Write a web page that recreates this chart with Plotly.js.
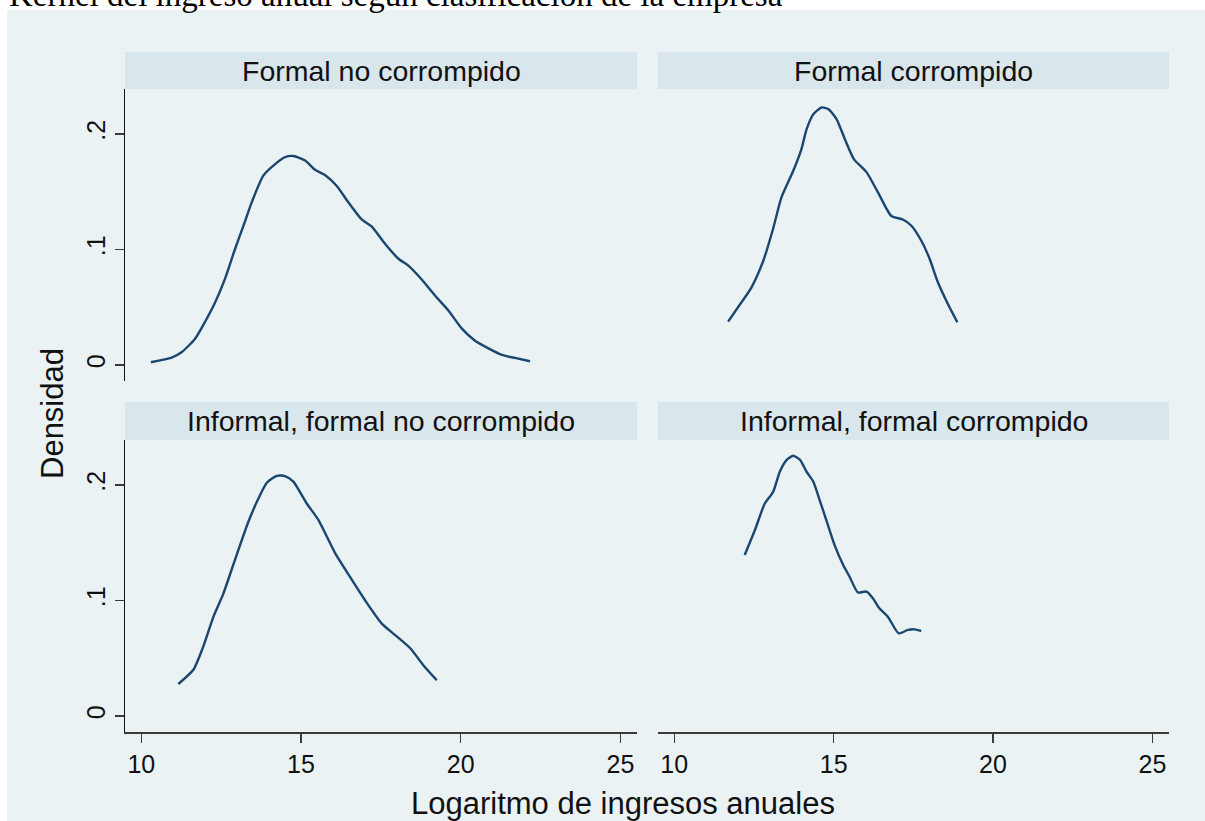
<!DOCTYPE html>
<html><head><meta charset="utf-8">
<script src="https://cdn.plot.ly/plotly-3.0.1.min.js"></script>
<style>html,body{margin:0;padding:0;background:#fff}#chart{width:1205px;height:821px}</style>
</head><body><div id="chart"></div>
<script>
// ---- data ----
const chartTitle = "Kernel del ingreso anual según clasificación de la empresa";
const panelTitles = ["Formal no corrompido", "Formal corrompido", "Informal, formal no corrompido", "Informal, formal corrompido"];
const xTitle = "Logaritmo de ingresos anuales";
const yTitle = "Densidad";
const xTickVals = [10, 15, 20, 25];
const xTickText = ["10", "15", "20", "25"];
const yTickVals = [0, 0.1, 0.2];
const yTickText = ["0", ".1", ".2"];

const fncX = [10.30,10.95,11.26,11.68,11.99,12.31,12.62,12.93,13.20,13.46,13.82,14.19,14.50,14.76,15.13,15.44,15.75,16.12,16.48,16.90,17.21,17.63,18.05,18.36,18.78,19.20,19.62,20.03,20.45,20.87,21.29,21.70,22.17];
const fncY = [0.0023,0.0063,0.011,0.0225,0.037,0.054,0.0745,0.100,0.1206,0.141,0.164,0.174,0.180,0.181,0.177,0.169,0.1645,0.155,0.141,0.126,0.120,0.105,0.092,0.086,0.074,0.060,0.047,0.0317,0.021,0.0144,0.0087,0.0061,0.0032];

const fcX = [11.69,12.00,12.42,12.79,13.10,13.36,13.73,13.99,14.15,14.36,14.62,14.83,15.09,15.35,15.64,16.03,16.39,16.81,17.17,17.44,17.75,18.01,18.27,18.58,18.88];
const fcY = [0.0375,0.050,0.067,0.090,0.118,0.145,0.168,0.187,0.204,0.217,0.223,0.2216,0.213,0.1957,0.178,0.167,0.1495,0.129,0.126,0.1206,0.1076,0.092,0.0716,0.053,0.037];

const ifncX = [11.16,11.63,11.94,12.26,12.57,12.93,13.35,13.67,13.93,14.24,14.50,14.76,15.18,15.54,16.07,16.59,17.01,17.53,17.95,18.42,18.83,19.25];
const ifncY = [0.0277,0.040,0.060,0.086,0.106,0.135,0.168,0.1885,0.202,0.208,0.2078,0.203,0.184,0.170,0.141,0.118,0.100,0.080,0.070,0.0586,0.044,0.031];

const ifcX = [12.21,12.53,12.84,13.10,13.31,13.52,13.73,13.94,14.15,14.36,14.56,14.77,15.03,15.30,15.50,15.76,16.03,16.23,16.44,16.70,17.04,17.33,17.54,17.75];
const ifcY = [0.1394,0.161,0.184,0.194,0.2115,0.2216,0.2254,0.222,0.2115,0.203,0.187,0.1697,0.148,0.1307,0.1206,0.107,0.1077,0.102,0.093,0.086,0.0716,0.0745,0.075,0.0736];

// ---- layout helpers ----
const W = 1205, H = 821;
const px = v => v / W;
const py = v => 1 - v / H;
const lineColor = "#1a476f";
const bg = "#eaf2f3";
const stripColor = "#d9e6eb";

const series = [[fncX, fncY], [fcX, fcY], [ifncX, ifncY], [ifcX, ifcY]];
const axisIds = [["x", "y"], ["x2", "y2"], ["x3", "y3"], ["x4", "y4"]];
const traces = series.map((s, i) => ({
  type: "scatter", mode: "lines", x: s[0], y: s[1],
  xaxis: axisIds[i][0], yaxis: axisIds[i][1],
  line: { color: lineColor, width: 2.4, shape: "spline", smoothing: 0.6 },
  hoverinfo: "x+y"
}));

const colDom = [[125, 637], [658, 1169]];
const rowDom = [[89, 381], [440, 732]];
const xRange = [9.49, 25.52];
const yRange = [-0.0139, 0.239];

function xAxis(col, showLabels) {
  return {
    domain: [px(colDom[col][0]), px(colDom[col][1])],
    range: xRange, tickvals: xTickVals, ticktext: xTickText,
    showgrid: false, zeroline: false,
    showline: showLabels, linecolor: "#3a3a3a", linewidth: 1.5,
    ticks: showLabels ? "outside" : "", ticklen: 9, tickwidth: 1.5, tickcolor: "#3a3a3a",
    showticklabels: showLabels,
    tickfont: { family: "Liberation Sans, Arial, sans-serif", size: 25, color: "#111" },
    fixedrange: true
  };
}
function yAxis(row, col, anchor) {
  const left = col === 0;
  return {
    domain: [py(rowDom[row][1]), py(rowDom[row][0])],
    anchor: anchor,
    range: yRange, tickvals: yTickVals, ticktext: yTickText,
    showgrid: true, gridcolor: bg, gridwidth: 1.8, zeroline: false,
    showline: left, linecolor: "#111", linewidth: 1.5,
    ticks: left ? "outside" : "", ticklen: 9, tickwidth: 1.5, tickcolor: "#3a3a3a",
    showticklabels: left, tickangle: -90,
    tickfont: { family: "Liberation Sans, Arial, sans-serif", size: 25, color: "#111" },
    fixedrange: true
  };
}

const shapes = [
  { type: "rect", xref: "paper", yref: "paper", x0: px(7), x1: 1, y0: 0, y1: py(10),
    fillcolor: bg, line: { width: 0 }, layer: "below" }
];
const annotations = [];
const stripRows = [[52, 89], [402, 440]];
panelTitles.forEach((t, i) => {
  const r = Math.floor(i / 2), c = i % 2;
  shapes.push({ type: "rect", xref: "paper", yref: "paper",
    x0: px(colDom[c][0]), x1: px(colDom[c][1]), y0: py(stripRows[r][1]), y1: py(stripRows[r][0]),
    fillcolor: stripColor, line: { width: 0 }, layer: "below" });
  annotations.push({ text: t, xref: "paper", yref: "paper", showarrow: false,
    x: px((colDom[c][0] + colDom[c][1]) / 2), y: py((stripRows[r][0] + stripRows[r][1]) / 2),
    xanchor: "center", yanchor: "middle",
    font: { family: "Liberation Sans, Arial, sans-serif", size: 28.5, color: "#111" } });
});
annotations.push({ text: xTitle, xref: "paper", yref: "paper", showarrow: false,
  x: px(623), y: py(803), xanchor: "center", yanchor: "middle",
  font: { family: "Liberation Sans, Arial, sans-serif", size: 31, color: "#111" } });
annotations.push({ text: yTitle, xref: "paper", yref: "paper", showarrow: false, textangle: -90,
  x: px(52), y: py(414), xanchor: "center", yanchor: "middle",
  font: { family: "Liberation Sans, Arial, sans-serif", size: 31, color: "#111" } });
annotations.push({ text: chartTitle, xref: "paper", yref: "paper", showarrow: false,
  x: px(7), y: py(-5), xanchor: "left", yanchor: "middle",
  font: { family: "Liberation Serif, Times New Roman, serif", size: 33, color: "#000" } });

const layout = {
  width: W, height: H, margin: { l: 0, r: 0, t: 0, b: 0 },
  paper_bgcolor: "#ffffff", plot_bgcolor: "#ffffff", showlegend: false,
  xaxis: Object.assign(xAxis(0, false), { anchor: "y" }),
  xaxis2: Object.assign(xAxis(1, false), { anchor: "y2" }),
  xaxis3: Object.assign(xAxis(0, true), { anchor: "y3" }),
  xaxis4: Object.assign(xAxis(1, true), { anchor: "y4" }),
  yaxis: yAxis(0, 0, "x"),
  yaxis2: yAxis(0, 1, "x2"),
  yaxis3: yAxis(1, 0, "x3"),
  yaxis4: yAxis(1, 1, "x4"),
  shapes: shapes, annotations: annotations
};
Plotly.newPlot("chart", traces, layout, { displayModeBar: false, staticPlot: true });
</script></body></html>
